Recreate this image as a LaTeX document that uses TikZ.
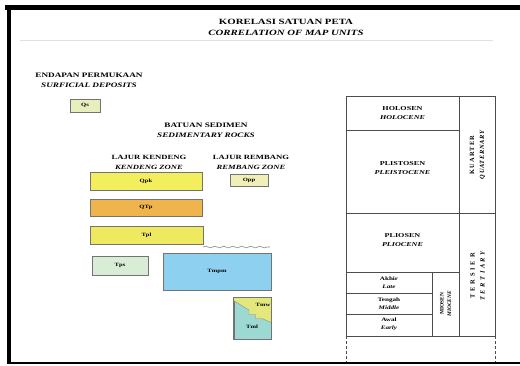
\documentclass[tikz,border=0pt]{standalone}
\usepackage{fontspec}
\usepackage{graphicx}
\setmainfont{Liberation Serif}
\usetikzlibrary{decorations.pathmorphing,calc}
\newcommand\wx[1]{\scalebox{1.35}[1]{#1}}
\newcommand\bi[1]{\textbf{\textit{#1}}}
\definecolor{cQs}{HTML}{E9EEBE}
\definecolor{cQpk}{HTML}{F2EE5E}
\definecolor{cOpp}{HTML}{F1EFB8}
\definecolor{cQTp}{HTML}{EFB44C}
\definecolor{cTpl}{HTML}{EEE95E}
\definecolor{cTps}{HTML}{D9ECD6}
\definecolor{cTmpm}{HTML}{8DD0EF}
\definecolor{cTmw}{HTML}{E3E77C}
\definecolor{cTml}{HTML}{9CD9D2}
\tikzset{
  hd/.style={align=center, inner sep=0pt, font=\fontsize{6.8}{10}\selectfont},
  unit/.style={draw=black!55, line width=0.6pt, inner sep=0pt, font=\fontsize{4.9}{5}\selectfont\bfseries},
  tline/.style={draw=black!70, line width=0.6pt},
  tlab/.style={align=center, inner sep=0pt, font=\fontsize{6}{9}\selectfont},
  slab/.style={align=center, inner sep=0pt, font=\fontsize{5.3}{8}\selectfont},
  rlab/.style={align=center, inner sep=0pt, rotate=90, font=\fontsize{6.4}{10}\selectfont},
}
\begin{document}
\begin{tikzpicture}[x=1pt,y=-1pt]
\useasboundingbox (0,0) rectangle (520,365);
\fill[white] (0,0) rectangle (520,365);
% black frame
\fill[black] (5,5) rectangle (520,10);
\fill[black] (7,5) rectangle (11,364);
\fill[black] (7,362) rectangle (520,364);
% faint rule under title
\draw[black!12, line width=0.6pt] (20,40.5) -- (493,40.5);

% title
\node[hd, font=\fontsize{8}{11}\selectfont] (title) at (286,27.5)
  {\wx{\textbf{KORELASI SATUAN PETA}}\\\wx{\bi{CORRELATION OF MAP UNITS}}};
\node[hd] (endapan) at (89,80)
  {\wx{\textbf{ENDAPAN PERMUKAAN}}\\\wx{\bi{SURFICIAL DEPOSITS}}};
\node[hd] (batuan) at (206,130)
  {\wx{\textbf{BATUAN SEDIMEN}}\\\wx{\bi{SEDIMENTARY ROCKS}}};
\node[hd, font=\fontsize{6.4}{9.5}\selectfont] (kendeng) at (149,162.5)
  {\wx{\textbf{LAJUR KENDENG}}\\\wx{\bi{KENDENG ZONE}}};
\node[hd, font=\fontsize{6.4}{9.5}\selectfont] (rembang) at (251,162.5)
  {\wx{\textbf{LAJUR REMBANG}}\\\wx{\bi{REMBANG ZONE}}};

% units
\node[unit, fill=cQs, minimum width=30pt, minimum height=13pt] (Qs) at (85,105.5) {\wx{Qs}};
\node[unit, fill=cQpk, minimum width=112pt, minimum height=18pt] (Qpk) at (146,181) {\wx{Qpk}};
\node[unit, fill=cOpp, minimum width=38pt, minimum height=12pt] (Opp) at (249,180) {\wx{Opp}};
\node[unit, fill=cQTp, minimum width=112pt, minimum height=17pt] (QTp) at (146,207.5) {\wx{QTp}};
\node[unit, fill=cTpl, minimum width=113pt, minimum height=18pt] (Tpl) at (146.5,235) {\wx{Tpl}};
\node[unit, fill=cTps, minimum width=56pt, minimum height=19pt] (Tps) at (120,265.5) {\wx{Tps}};
\node[unit, fill=cTmpm, minimum width=108pt, minimum height=37pt] (Tmpm) at (217,271.5) {\wx{Tmpm}};
% wavy unconformity
\coordinate (w1) at (203,247);
\coordinate (w2) at (270,247);
\draw[black!45, line width=0.6pt, decorate, decoration={snake, amplitude=0.9pt, segment length=9pt}] (w1) -- (w2);
% Tmw / Tml box
\node[unit, fill=cTml, minimum width=37pt, minimum height=41pt] (Tm) at (252.5,318.5) {};
\coordinate (s0) at ($(Tm.north west)+(0,3)$);
\fill[cTmw] (Tm.north west) -- (s0) -- (249,310) -- (249,314.5) -- (255.5,314.5) -- (255.5,318.5) -- (262,318.5) -- (271,322.5) -- (Tm.north east) -- cycle;
\draw[black!45, line width=0.4pt] (s0) -- (249,310) -- (249,314.5) -- (255.5,314.5) -- (255.5,318.5) -- (262,318.5) -- (271,322.5);
\draw[black!55, line width=0.6pt] (Tm.north west) rectangle (Tm.south east);
\node[inner sep=0pt, font=\fontsize{4.9}{5}\selectfont\bfseries] (Tmw) at (263,305) {\wx{Tmw}};
\node[inner sep=0pt, font=\fontsize{4.9}{5}\selectfont\bfseries] (Tml) at (252,327) {\wx{Tml}};

% time table
\draw[tline] (346,96) rectangle (495,336);
\draw[tline] (459,96) -- (459,336);
\draw[tline] (346,130) -- (459,130);
\draw[tline] (346,213) -- (495,213);
\draw[tline] (346,272) -- (459,272);
\draw[tline] (346,293) -- (432,293);
\draw[tline] (346,314) -- (432,314);
\draw[tline] (432,272) -- (432,336);
\draw[tline, dash pattern=on 3pt off 2pt] (346,336) -- (346,362);
\draw[tline, dash pattern=on 3pt off 2pt] (495,336) -- (495,362);

\node[tlab] (holo) at (402.5,113) {\wx{\textbf{HOLOSEN}}\\\wx{\bi{HOLOCENE}}};
\node[tlab] (plei) at (402.5,168) {\wx{\textbf{PLISTOSEN}}\\\wx{\bi{PLEISTOCENE}}};
\node[tlab] (plio) at (402.5,240.5) {\wx{\textbf{PLIOSEN}}\\\wx{\bi{PLIOCENE}}};
\node[slab] (akhir) at (389,282.5) {\wx{\textbf{Akhir}}\\\wx{\bi{Late}}};
\node[slab] (tengah) at (389,303.5) {\wx{\textbf{Tengah}}\\\wx{\bi{Middle}}};
\node[slab] (awal) at (389,324.5) {\wx{\textbf{Awal}}\\\wx{\bi{Early}}};
\node[rlab] (kuarter) at (477.5,154.5)
  {\addfontfeature{LetterSpace=18}\textbf{KUARTER}\\\addfontfeature{LetterSpace=10}\bi{QUATERNARY}};
\node[rlab] (tersier) at (477.5,274.5)
  {\addfontfeature{LetterSpace=45}\textbf{TERSIER}\\\addfontfeature{LetterSpace=40}\bi{TERTIARY}};
\node[rlab, font=\fontsize{5.4}{7.5}\selectfont] (miosen) at (445.5,304)
  {\textbf{MIOSEN}\\\bi{MIOCENE}};
\end{tikzpicture}
\end{document}
